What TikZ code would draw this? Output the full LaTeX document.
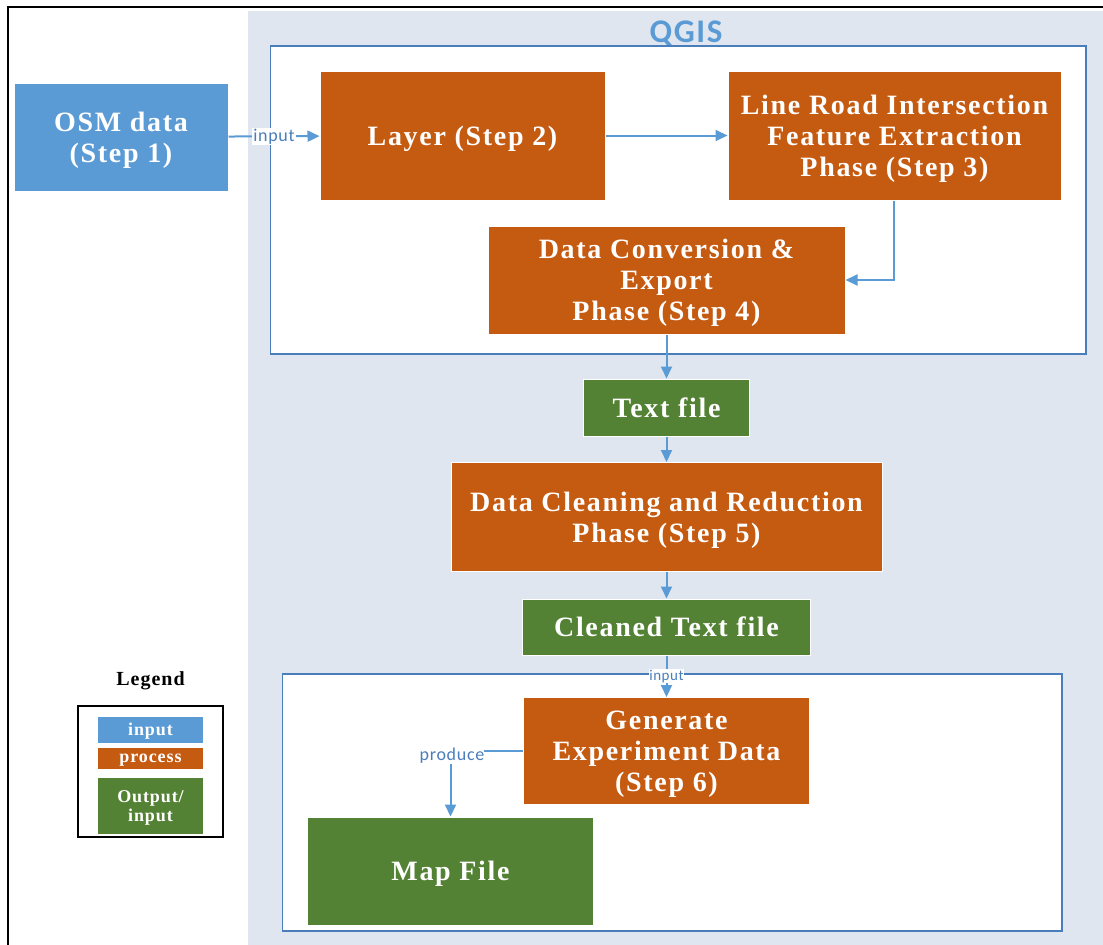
\documentclass[tikz,border=0pt]{standalone}
\usepackage{fontspec}
\setmainfont{Liberation Serif}
\newfontfamily\boxfont[LetterSpace=6]{Liberation Serif}
\newfontfamily\legfont[LetterSpace=5]{Liberation Serif}
\newfontfamily\lblfont[LetterSpace=4]{Carlito}
\newfontfamily\qgisfont[LetterSpace=5]{Carlito}
\usetikzlibrary{arrows.meta}
\definecolor{cblue}{HTML}{5B9BD5}
\definecolor{corange}{HTML}{C55A11}
\definecolor{cgreen}{HTML}{548235}
\definecolor{cbg}{HTML}{DFE6F0}
\definecolor{cframe}{HTML}{4A7EBB}
\definecolor{cline}{HTML}{5B9BD5}
\begin{document}
\begin{tikzpicture}[x=1pt,y=-1pt,
  box/.style={rectangle, draw=white, line width=1pt, inner sep=0pt, align=center, text=white,
    text depth=0pt, font=\boxfont\bfseries\fontsize{28}{31}\selectfont},
  inbox/.style={box, fill=cblue},
  procbox/.style={box, fill=corange},
  outbox/.style={box, fill=cgreen},
  legitem/.style={rectangle, inner sep=0pt, align=center, text=white, text depth=0pt,
    font=\legfont\bfseries\fontsize{18}{19}\selectfont},
  conn/.style={draw=cline, line width=2pt, -{Triangle[length=12pt,width=11pt]}},
  lbl/.style={fill=white, inner sep=1pt, text=cframe, font=\lblfont\fontsize{18}{20}\selectfont},
  group/.style={draw=cframe, line width=1.8pt, fill=white}
]
\useasboundingbox (0,0) rectangle (1103,945);
% outer frame
\fill[white] (0,0) rectangle (1103,945);
\draw[line width=2.5pt, black] (8,945) -- (8,7) -- (1103,7);
% QGIS region
\fill[cbg] (248,11) rectangle (1103,945);
\node[text=cblue, font=\qgisfont\bfseries\fontsize{33}{34}\selectfont] (qgis) at (686,34) {QGIS};
\draw[group] (270.5,46) rectangle (1086,354);
\draw[group] (282.5,674) rectangle (1062,931);

% nodes
\node[inbox, minimum width=214pt, minimum height=108pt] (osm) at (121,137) {OSM data\\(Step 1)};
\node[procbox, minimum width=285pt, minimum height=129pt] (layer) at (462.5,135.5) {Layer (Step 2)};
\node[procbox, minimum width=333pt, minimum height=129pt] (lri) at (894.5,135.5) {Line Road Intersection\\Feature Extraction\\Phase (Step 3)};
\node[procbox, minimum width=357pt, minimum height=108pt] (conv) at (666.5,280) {Data Conversion \&\\Export\\Phase (Step 4)};
\node[outbox, minimum width=166pt, minimum height=57pt] (txt) at (666.5,407.5) {Text file};
\node[procbox, minimum width=431pt, minimum height=109pt] (clean) at (666.5,517) {Data Cleaning and Reduction\\Phase (Step 5)};
\node[outbox, minimum width=288pt, minimum height=56pt] (ctxt) at (666.5,627) {Cleaned Text file};
\node[procbox, minimum width=286pt, minimum height=107pt] (gen) at (666.5,751) {Generate\\Experiment Data\\(Step 6)};
\node[outbox, minimum width=286pt, minimum height=108pt] (map) at (450.5,871) {Map File};

% connectors
\draw[conn] (osm) -- node[lbl, pos=0.5] {input} (layer);
\draw[conn] (layer) -- (lri);
\draw[conn] (lri.south -| 894,0) |- (conv.east |- 0,280);
\draw[conn] (conv) -- (txt);
\draw[conn] (txt) -- (clean);
\draw[conn] (clean) -- (ctxt);
\draw[conn] (ctxt) -- node[lbl, pos=0.5, inner sep=0.5pt, font=\lblfont\fontsize{15}{17}\selectfont] {input} (gen);
\coordinate (corner) at (450.5,751);
\draw[conn] (gen.west) -- (corner) -- (map.north);
\node[lbl, inner sep=0pt] (prod) at (452,756) {produce};

% legend
\node[font=\legfont\bfseries\fontsize{20}{22}\selectfont] (legtitle) at (150.5,681) {Legend};
\draw[line width=1.5pt, black] (78,706) rectangle (223,837);
\node[legitem, fill=cblue, minimum width=105pt, minimum height=26pt] (lin) at (150.5,729.7) {input};
\node[legitem, fill=corange, minimum width=105pt, minimum height=21pt] (lproc) at (150.5,758.3) {process};
\node[legitem, fill=cgreen, minimum width=105pt, minimum height=56pt] (lout) at (150.5,806) {Output/\\input};
\end{tikzpicture}
\end{document}
